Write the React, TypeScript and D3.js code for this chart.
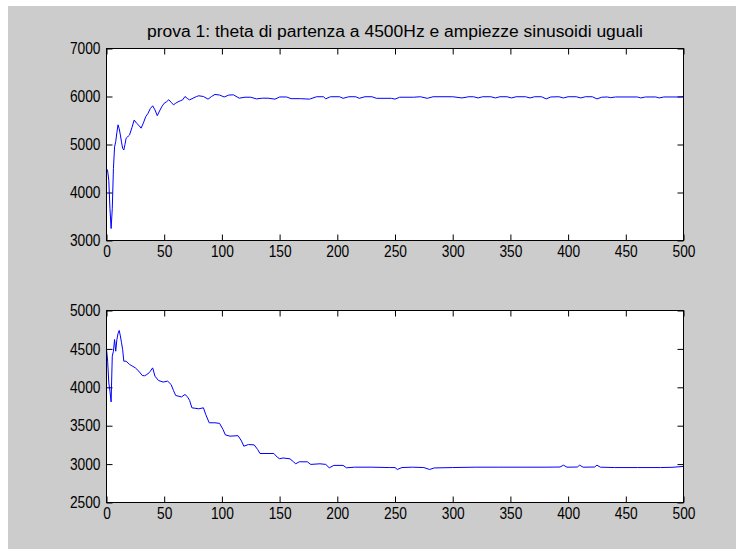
import { useEffect, useRef } from 'react';
import * as d3 from 'd3';

// values: [sample index, frequency Hz]
const titleText = 'prova 1: theta di partenza a 4500Hz e ampiezze sinusoidi uguali';

const xTicks = [0, 50, 100, 150, 200, 250, 300, 350, 400, 450, 500];
const topTicks = [3000, 4000, 5000, 6000, 7000];
const bottomTicks = [2500, 3000, 3500, 4000, 4500, 5000];

const topSeries = [
  [0, 4500], [1, 4450], [2, 4250], [3, 3660], [4, 3250], [5, 3660], [6, 4500],
  [7, 4950], [8, 5060], [9, 5250], [10, 5410], [11, 5330], [12, 5200], [13, 5050],
  [14, 4920], [15, 4885], [16, 5000], [17, 5130], [18, 5150], [19, 5180], [20, 5200],
  [22, 5350], [24, 5510], [26, 5445], [28, 5400], [30, 5340], [32, 5450], [34, 5580],
  [36, 5650], [38, 5750], [40, 5806], [42, 5722], [44, 5600], [46, 5700], [48, 5792],
  [50, 5860], [52, 5890], [54, 5932], [56, 5880], [58, 5827], [60, 5860], [62, 5890],
  [64, 5910], [66, 5930], [68, 6000], [70, 5960], [72, 5930], [75, 5965], [78, 6000],
  [80, 6015], [84, 6000], [88, 5945], [91, 6000], [94, 6043], [98, 6030], [102, 5990],
  [106, 6030], [110, 6035], [115, 5965], [120, 5985], [125, 5985], [130, 5950],
  [135, 5965], [140, 5965], [146, 5945], [150, 5990], [156, 5990], [160, 5955],
  [168, 5955], [176, 5945], [182, 5995], [188, 5995], [190, 5952], [194, 5995],
  [202, 5995], [205, 5962], [210, 5995], [216, 5995], [219, 5962], [224, 5995],
  [230, 5995], [234, 5962], [247, 5962], [250, 5945], [254, 5985], [266, 5985],
  [272, 5995], [278, 5962], [283, 5995], [300, 5995], [308, 5970], [314, 5995],
  [318, 5995], [322, 5970], [326, 5995], [333, 5995], [337, 5970], [341, 5995],
  [347, 5995], [351, 5970], [355, 5995], [363, 5995], [367, 5970], [371, 5995],
  [377, 5995], [381, 5950], [385, 5990], [392, 5995], [396, 5970], [400, 5995],
  [407, 5995], [411, 5970], [415, 5995], [421, 5995], [425, 5950], [429, 5985],
  [434, 5990], [437, 5975], [441, 5990], [460, 5990], [463, 5970], [467, 5990],
  [476, 5990], [479, 5970], [483, 5990], [496, 5990], [500, 5998],
];

const bottomSeries = [
  [0, 4500], [1, 4340], [2, 4058], [3, 3950], [4, 3810], [5, 4405], [6, 4470],
  [7, 4622], [8, 4470], [9, 4622], [10, 4700], [11, 4740], [12, 4670], [13, 4580],
  [14, 4492], [15, 4340], [17, 4340], [20, 4297], [22, 4280], [25, 4253], [28, 4210],
  [31, 4154], [33, 4150], [35, 4167], [37, 4190], [38, 4210], [40, 4253], [42, 4145],
  [45, 4089], [49, 4068], [53, 4080], [56, 4036], [58, 3960], [60, 3893], [65, 3875],
  [68, 3906], [70, 3880], [72, 3830], [74, 3733], [80, 3720], [84, 3733], [86, 3646],
  [89, 3538], [94, 3538], [98, 3530], [101, 3450], [103, 3380], [107, 3364],
  [114, 3370], [117, 3300], [119, 3233], [123, 3255], [128, 3250], [131, 3190],
  [133, 3138], [145, 3138], [148, 3090], [150, 3070], [153, 3080], [159, 3069],
  [162, 3030], [164, 3004], [167, 3030], [174, 3030], [177, 2996], [185, 3004],
  [190, 2996], [193, 2952], [197, 2983], [205, 2983], [208, 2952], [215, 2960],
  [230, 2960], [245, 2955], [250, 2955], [252, 2930], [256, 2955], [265, 2960],
  [275, 2955], [280, 2930], [284, 2950], [300, 2955], [320, 2960], [340, 2960],
  [360, 2960], [380, 2960], [393, 2962], [396, 2986], [399, 2960], [408, 2962],
  [410, 2986], [413, 2960], [423, 2962], [425, 2986], [428, 2960], [440, 2955],
  [460, 2955], [480, 2955], [490, 2958], [496, 2965], [500, 2970],
];

const FONT = "'Liberation Sans', Arial, sans-serif";
const SQUEEZE = 0.86; // the screen font of the original is narrow

export default function App() {
  const svgRef = useRef<SVGSVGElement>(null);

  useEffect(() => {
    const svg = d3.select(svgRef.current);
    svg.selectAll('*').remove();

    // figure background
    svg.append('rect')
      .attr('x', 8).attr('y', 6)
      .attr('width', 728).attr('height', 543)
      .attr('fill', '#cccccc');

    const left = 106.5;
    const right = 683.5;

    const x = d3.scaleLinear().domain([0, 500]).range([left, right]);

    const drawPanel = (top: number, bottom: number, yDomain: number[], yTicks: number[], data: number[][]) => {
      const y = d3.scaleLinear().domain(yDomain).range([bottom, top]);
      const g = svg.append('g');

      g.append('rect')
        .attr('x', left).attr('y', top)
        .attr('width', right - left).attr('height', bottom - top)
        .attr('fill', '#ffffff');

      const ax = (sel: any, gen: any, tx: number, ty: number, labels: boolean) => {
        const a = sel.append('g').attr('transform', `translate(${tx},${ty})`).call(gen);
        a.select('.domain').remove();
        a.selectAll('line').attr('stroke', '#000');
        if (!labels) {
          a.selectAll('text').remove();
          return a;
        }
        a.selectAll('text')
          .attr('fill', '#000')
          .style('font-family', FONT)
          .style('font-size', '16px')
          .each(function (this: any) {
            const t = d3.select(this);
            const tx0 = +(t.attr('x') || 0);
            t.attr('x', tx0 / SQUEEZE).attr('transform', `scale(${SQUEEZE},1)`);
          });
        return a;
      };

      ax(g, d3.axisBottom(x).tickValues(xTicks).tickSize(-6).tickSizeOuter(0).tickPadding(5).tickFormat(d3.format('d')), 0, bottom, true);
      ax(g, d3.axisTop(x).tickValues(xTicks).tickSize(-6).tickSizeOuter(0), 0, top, false);
      ax(g, d3.axisLeft(y).tickValues(yTicks).tickSize(-6).tickSizeOuter(0).tickPadding(6).tickFormat(d3.format('d')), left, 0, true);
      ax(g, d3.axisRight(y).tickValues(yTicks).tickSize(-6).tickSizeOuter(0), right, 0, false);

      const ln = d3.line<number[]>()
        .x((d) => x(d[0]))
        .y((d) => y(d[1]));

      g.append('path')
        .datum(data)
        .attr('d', ln)
        .attr('fill', 'none')
        .attr('stroke', '#0000ff')
        .attr('stroke-width', 1);

      g.append('rect')
        .attr('x', left).attr('y', top)
        .attr('width', right - left).attr('height', bottom - top)
        .attr('fill', 'none')
        .attr('stroke', '#000')
        .attr('stroke-width', 1);
    };

    drawPanel(48.5, 240.5, [3000, 7000], topTicks, topSeries);
    drawPanel(310.5, 502.5, [2500, 5000], bottomTicks, bottomSeries);

    svg.append('text')
      .attr('x', (left + right) / 2)
      .attr('y', 37)
      .attr('text-anchor', 'middle')
      .attr('textLength', 496)
      .attr('lengthAdjust', 'spacingAndGlyphs')
      .style('font-family', FONT)
      .style('font-size', '16px')
      .attr('fill', '#000')
      .text(titleText);
  }, []);

  return (
    <svg
      ref={svgRef}
      width={742}
      height={558}
      style={{ position: 'absolute', left: 0, top: 0, background: '#ffffff' }}
    />
  );
}
